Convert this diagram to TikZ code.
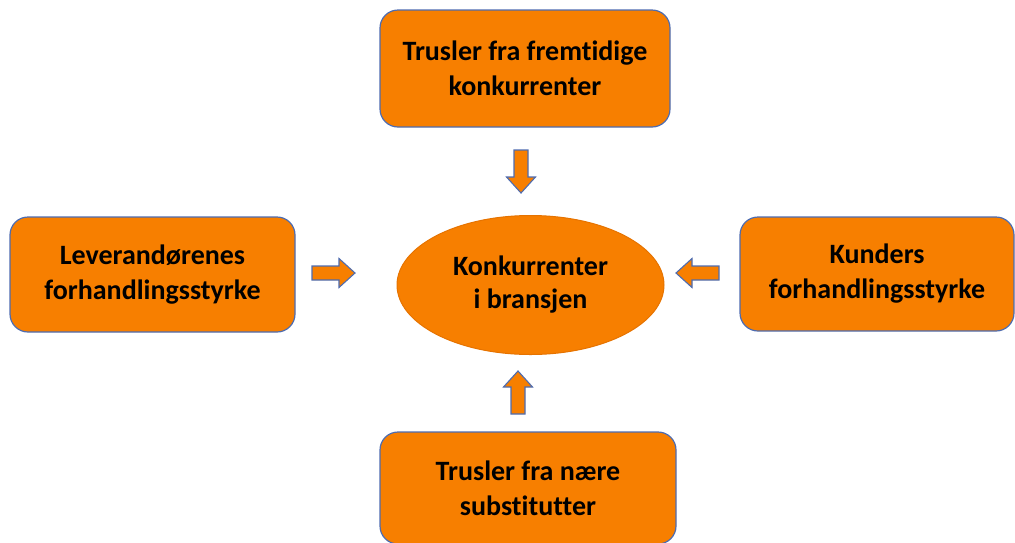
\documentclass[tikz,border=0pt]{standalone}
\usepackage{fontspec}
\setmainfont{Carlito}[Ligatures=NoCommon]
\usetikzlibrary{shapes.geometric}
\definecolor{org}{RGB}{247,127,0}
\definecolor{orgdark}{RGB}{230,115,0}
\definecolor{bordr}{RGB}{78,108,176}
\begin{document}
\begin{tikzpicture}[x=1pt,y=-1pt,
  box/.style={draw=bordr, line width=1.2pt, fill=org, rounded corners=18pt,
    align=center, font=\fontsize{28}{35}\selectfont\bfseries, inner sep=0pt},
  oval/.style={ellipse, draw=orgdark, line width=1pt, fill=org, align=center,
    font=\fontsize{28}{33}\selectfont\bfseries, inner sep=0pt},
  arrowsty/.style={draw=bordr, line width=1.1pt, fill=org, line join=miter},
  barrow/.pic={\path[arrowsty] (0,-7) -- (27,-7) -- (27,-14.5) -- (43,0) -- (27,14.5) -- (27,7) -- (0,7) -- cycle;}
]
\useasboundingbox (0,0) rectangle (1015,542);
\node[box, minimum width=290pt, minimum height=117pt] (fut) at (525,68.5)
  {Trusler fra fremtidige\\konkurrenter};
\node[box, minimum width=285pt, minimum height=115pt] (sup) at (152.5,274.5)
  {Leverandørenes\\forhandlingsstyrke};
\node[box, minimum width=274pt, minimum height=114pt] (cus) at (877,274)
  {Kunders\\forhandlingsstyrke};
\node[box, minimum width=296pt, minimum height=112pt] (sub) at (528,488)
  {Trusler fra nære\\substitutter};
\node[oval, minimum width=267pt, minimum height=139pt] (ind) at (530.5,285)
  {Konkurrenter\\i bransjen};
\pic[rotate=-90] at (521,150) {barrow};
\pic at (312,273) {barrow};
\pic[rotate=180] at (719,273) {barrow};
\pic[rotate=90] at (518,414) {barrow};
\end{tikzpicture}
\end{document}
